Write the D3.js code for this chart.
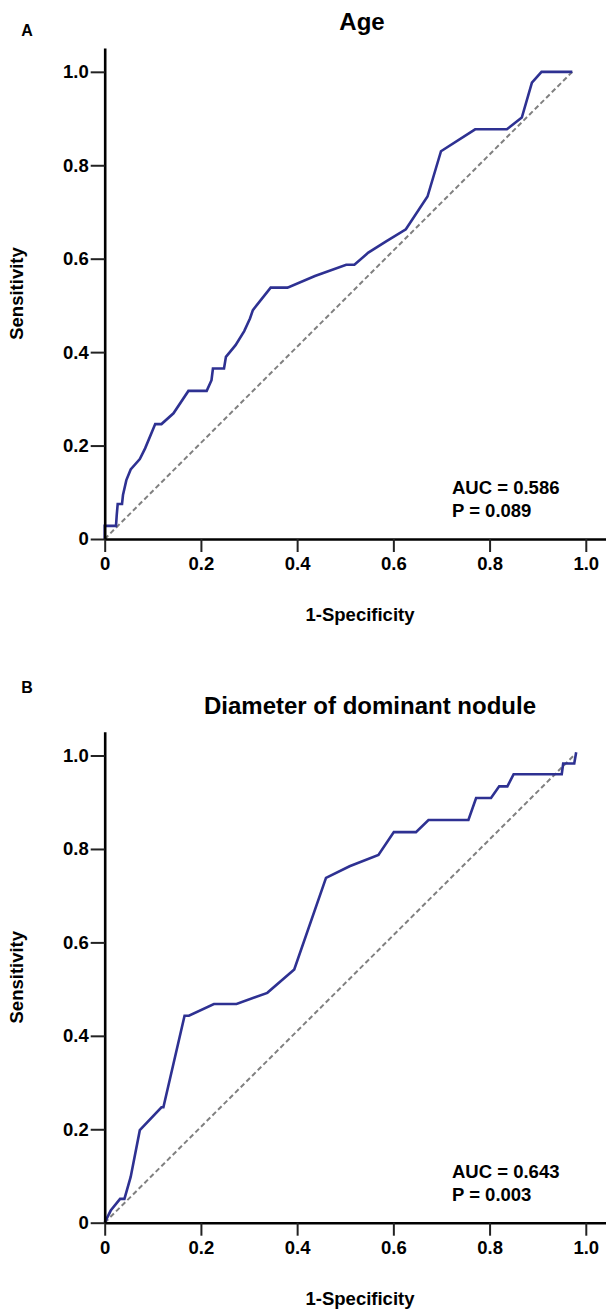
<!DOCTYPE html>
<html>
<head>
<meta charset="utf-8">
<script src="https://cdn.jsdelivr.net/npm/d3@7"></script>
<style>
    body { margin: 0; background: #fff; }
    svg text { font-family: "Liberation Sans", Arial, sans-serif; font-weight: bold; fill: #000; }
</style>
</head>
<body>
<div id="chart"></div>
<script>
// ROC curve points (1-specificity, sensitivity)
const ageFpr = [0, 0, 0.0235, 0.025, 0.027, 0.036, 0.038, 0.045, 0.054, 0.073, 0.084, 0.105, 0.118, 0.143, 0.174, 0.212, 0.222, 0.225, 0.248, 0.252, 0.272, 0.29, 0.302, 0.308, 0.345, 0.38, 0.437, 0.502, 0.519, 0.548, 0.585, 0.626, 0.671, 0.699, 0.77, 0.836, 0.867, 0.888, 0.908, 0.972];
const ageTpr = [0, 0.028, 0.028, 0.051, 0.075, 0.075, 0.094, 0.126, 0.149, 0.171, 0.194, 0.246, 0.246, 0.269, 0.317, 0.317, 0.34, 0.365, 0.365, 0.39, 0.415, 0.445, 0.472, 0.49, 0.538, 0.538, 0.563, 0.587, 0.587, 0.613, 0.637, 0.663, 0.733, 0.83, 0.877, 0.877, 0.902, 0.977, 1.0, 1.0];

const noduleFpr = [0, 0.0125, 0.032, 0.041, 0.054, 0.073, 0.118, 0.122, 0.166, 0.175, 0.227, 0.274, 0.338, 0.394, 0.46, 0.509, 0.569, 0.601, 0.647, 0.673, 0.756, 0.772, 0.803, 0.82, 0.837, 0.85, 0.95, 0.953, 0.976, 0.98];
const noduleTpr = [0, 0.026, 0.051, 0.051, 0.098, 0.198, 0.247, 0.247, 0.443, 0.443, 0.468, 0.468, 0.492, 0.542, 0.738, 0.763, 0.787, 0.836, 0.836, 0.862, 0.862, 0.909, 0.909, 0.934, 0.934, 0.96, 0.96, 0.983, 0.983, 1.007];

// reference line end points
const ageDiagonal = [[0, 0], [0.972, 1.0]];
const noduleDiagonal = [[0, 0], [0.975, 1.0]];

const xTicks = [0, 0.2, 0.4, 0.6, 0.8, 1.0];
const yTicks = [0, 0.2, 0.4, 0.6, 0.8, 1.0];

const panels = [
    { letter: 'A', letterY: 30, title: 'Age', titleX: 362, fpr: ageFpr, tpr: ageTpr, diag: ageDiagonal, auc: 'AUC = 0.586', p: 'P = 0.089', top: 0 },
    { letter: 'B', letterY: 687, title: 'Diameter of dominant nodule', titleX: 370, fpr: noduleFpr, tpr: noduleTpr, diag: noduleDiagonal, auc: 'AUC = 0.643', p: 'P = 0.003', top: 683.7 }
];

const svg = d3.select('#chart')
    .append('svg')
    .attr('width', 606)
    .attr('height', 1309);

const fmt = d => d === 0 ? '0' : d3.format('.1f')(d);

panels.forEach(p => {
    // panel letter (page coordinates)
    svg.append('text')
        .attr('x', 27)
        .attr('y', p.letterY)
        .attr('dy', '0.35em')
        .attr('text-anchor', 'middle')
        .style('font-size', '16px')
        .text(p.letter);

    const g = svg.append('g').attr('transform', `translate(0,${p.top})`);

    const x = d3.scaleLinear().domain([0, 1.042]).range([104.7, 606]);
    const y = d3.scaleLinear().domain([0, 1.051]).range([539, 48]);

    g.append('text')
        .attr('x', p.titleX)
        .attr('y', 22)
        .attr('dy', '0.35em')
        .attr('text-anchor', 'middle')
        .style('font-size', '24px')
        .text(p.title);

    // diagonal reference line
    const line = d3.line().x(d => x(d[0])).y(d => y(d[1]));
    g.append('path')
        .datum(p.diag)
        .attr('d', line)
        .attr('fill', 'none')
        .attr('stroke', '#808080')
        .attr('stroke-width', 2)
        .attr('stroke-dasharray', '5,3');

    // ROC curve
    const pts = p.fpr.map((v, k) => [v, p.tpr[k]]);
    g.append('path')
        .datum(pts)
        .attr('d', line)
        .attr('fill', 'none')
        .attr('stroke', '#2e3192')
        .attr('stroke-width', 2.6);

    // axes
    const xAxis = g.append('g')
        .attr('transform', `translate(0,${y(0)})`)
        .call(d3.axisBottom(x).tickValues(xTicks).tickFormat(fmt).tickSizeInner(13).tickSizeOuter(0).tickPadding(5));

    const yAxis = g.append('g')
        .attr('transform', `translate(${x(0)},0)`)
        .call(d3.axisLeft(y).tickValues(yTicks).tickFormat(fmt).tickSizeInner(14).tickSizeOuter(0).tickPadding(2));

    [xAxis, yAxis].forEach(a => {
        a.select('.domain').attr('stroke', '#000').attr('stroke-width', 2.6);
        a.selectAll('.tick line').attr('stroke', '#222').attr('stroke-width', 2);
        a.selectAll('.tick text')
            .style('font-size', '18.5px')
            .style('font-family', '"Liberation Sans", Arial, sans-serif')
            .style('font-weight', 'bold')
            .attr('fill', '#000');
    });

    // axis titles
    g.append('text')
        .attr('transform', `translate(17,${(y(0) + y(1.051)) / 2}) rotate(-90)`)
        .attr('text-anchor', 'middle')
        .attr('dy', '0.35em')
        .style('font-size', '18.5px')
        .text('Sensitivity');

    g.append('text')
        .attr('x', 360)
        .attr('y', 615)
        .attr('dy', '0.35em')
        .attr('text-anchor', 'middle')
        .style('font-size', '18.5px')
        .text('1-Specificity');

    // AUC annotation
    g.append('text')
        .attr('x', 452).attr('y', 488).attr('dy', '0.35em')
        .style('font-size', '18.5px')
        .text(p.auc);
    g.append('text')
        .attr('x', 452).attr('y', 511).attr('dy', '0.35em')
        .style('font-size', '18.5px')
        .text(p.p);
});
</script>
</body>
</html>
